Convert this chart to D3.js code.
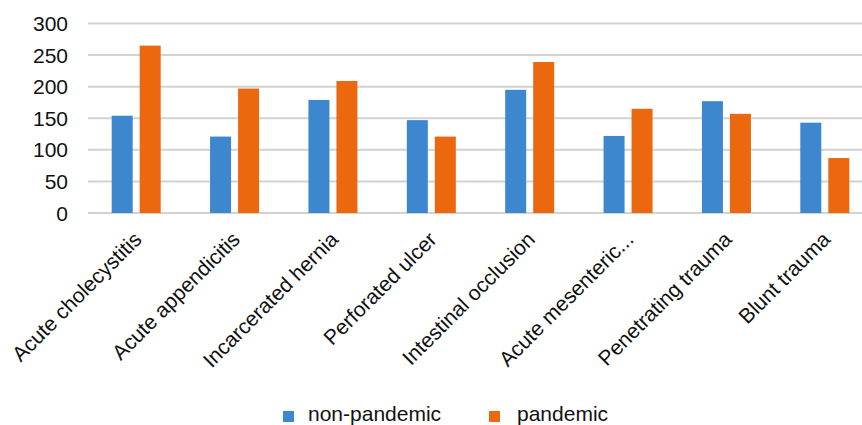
<!DOCTYPE html>
<html>
<head>
<meta charset="utf-8">
<script src="https://cdn.jsdelivr.net/npm/d3@7"></script>
<style>
  body { margin: 0; background: #fff; }
  text { font-family: "Liberation Sans", Arial, sans-serif; fill: #111; }
</style>
</head>
<body>
<div id="chart"></div>
<script>
// chart data
const categories = ["Acute cholecystitis", "Acute appendicitis", "Incarcerated hernia", "Perforated ulcer",
  "Intestinal occlusion", "Acute mesenteric...", "Penetrating trauma", "Blunt trauma"];
const seriesNames = ["non-pandemic", "pandemic"];
const nonPandemic = [154, 121, 179, 147, 195, 122, 177, 143];
const pandemic = [265, 197, 209, 121, 239, 165, 157, 87];
const yTicks = [0, 50, 100, 150, 200, 250, 300];
const colors = ["#3d87cf", "#eb680f"];

const width = 862, height = 425;

var svg = d3.select('#chart').append('svg')
  .attr('width', width)
  .attr('height', height);

var x0 = d3.scaleBand().domain(categories).range([87, 874]).padding(0);
var x1 = d3.scaleBand().domain(seriesNames).range([0, 49]).paddingInner(0.25);
var y = d3.scaleLinear().domain([0, 300]).range([213, 23.5]);

// gridlines
svg.append('g').selectAll('line')
  .data(yTicks)
  .enter().append('line')
  .attr('x1', 88).attr('x2', width)
  .attr('y1', d => y(d)).attr('y2', d => y(d))
  .attr('stroke', '#d2d2d2')
  .attr('stroke-width', 2);

// y tick labels
svg.append('g').selectAll('text')
  .data(yTicks)
  .enter().append('text')
  .attr('x', 68)
  .attr('y', d => y(d))
  .attr('dy', '0.36em')
  .attr('text-anchor', 'end')
  .attr('font-size', '21px')
  .text(d => d);

// bars
var rows = categories.map((c, i) => ({ cat: c, vals: [nonPandemic[i], pandemic[i]] }));
var groups = svg.append('g').selectAll('g')
  .data(rows)
  .enter().append('g')
  .attr('transform', d => `translate(${x0(d.cat) + x0.bandwidth() / 2 - 24.5},0)`);

groups.selectAll('rect')
  .data(d => d.vals.map((v, j) => ({ s: seriesNames[j], v: v, j: j })))
  .enter().append('rect')
  .attr('x', d => x1(d.s))
  .attr('width', x1.bandwidth())
  .attr('y', d => y(d.v))
  .attr('height', d => y(0) - y(d.v))
  .attr('fill', d => colors[d.j]);

// category labels
svg.append('g').selectAll('text')
  .data(categories)
  .enter().append('text')
  .attr('transform', d => `translate(${x0(d) + x0.bandwidth() / 2 - 4},${230}) rotate(-45)`)
  .attr('text-anchor', 'end')
  .attr('dy', '0.72em')
  .attr('font-size', '21px')
  .text(d => d);

// legend
var legend = svg.append('g');
var legendX = [283, 489];
var textX = [308, 517];
seriesNames.forEach(function(name, i) {
  legend.append('rect')
    .attr('x', legendX[i]).attr('y', 411)
    .attr('width', 11).attr('height', 11)
    .attr('fill', colors[i]);
  legend.append('text')
    .attr('x', textX[i]).attr('y', 421)
    .attr('font-size', '21px')
    .text(name);
});
</script>
</body>
</html>
